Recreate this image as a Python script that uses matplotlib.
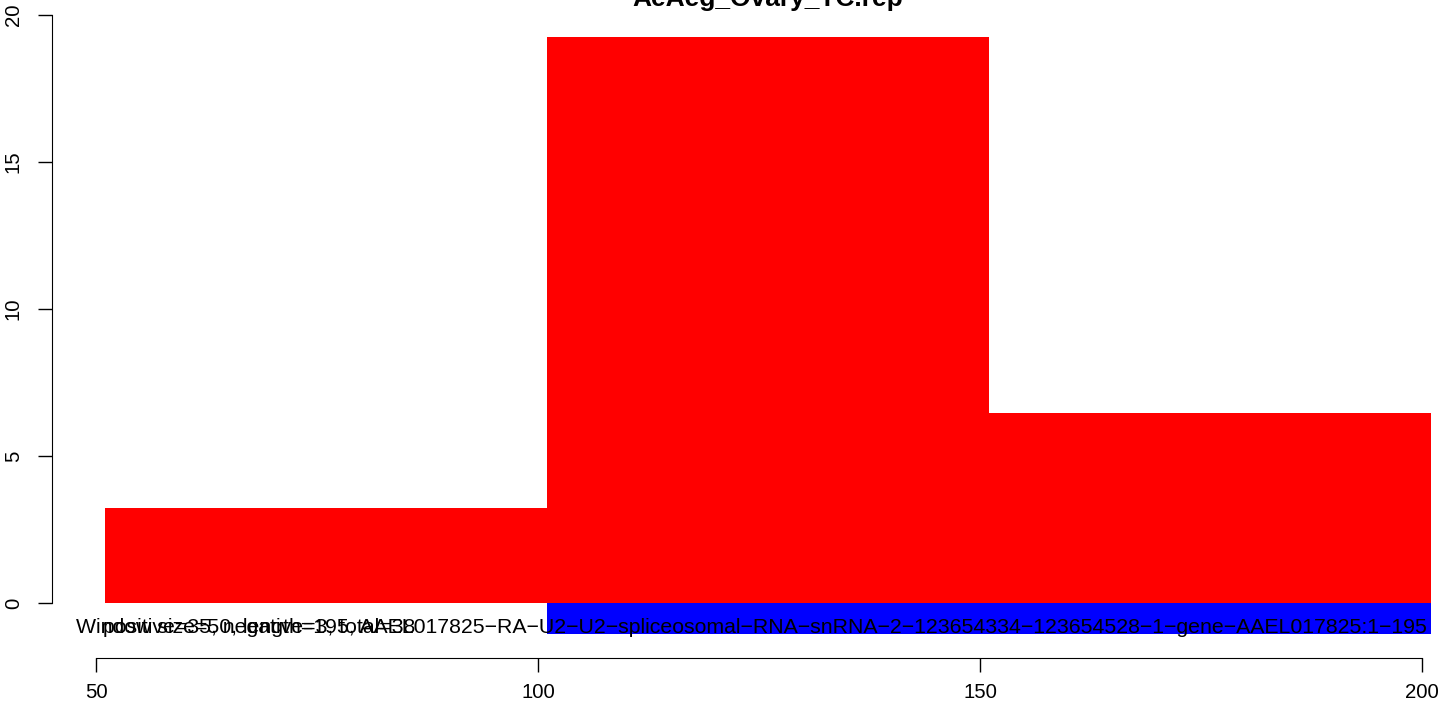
import matplotlib
matplotlib.use("Agg")
import matplotlib.pyplot as plt

plt.rcParams['font.family'] = ['Liberation Sans', 'DejaVu Sans']

# data
title = "AeAeg_Ovary_TC.rep"
win_start = [51, 101, 151]
win_width = [50, 50, 50]
positive = [3.23, 19.25, 6.45]
neg_start = [101]
neg_width = [100]
negative = [-1.05]
# R draws "-" as a real minus sign
label_main = ("Window size=50, length=195, AAEL017825-RA-U2-U2-spliceosomal-RNA-snRNA-2-"
              "123654334-123654528-1-gene-AAEL017825:1-195").replace("-", "\u2212")
label_counts = "positive=35, negative=3, total=38"
xticks = [50, 100, 150, 200]
yticks = [0, 5, 10, 15, 20]

W, H = 1444, 709
fig = plt.figure(figsize=(W / 100, H / 100), dpi=100)
# R-like plot region (extends past the right edge as in the reference)
ax = fig.add_axes([52 / W, (H - 658) / H, (1484 - 52) / W, (658 - 13) / H])
ax.set_xlim(45, 207)
ax.set_ylim(-1.87, 20.06)

ax.bar(win_start, positive, width=win_width, align='edge', color='red', linewidth=0)
ax.bar(neg_start, negative, width=neg_width, align='edge', color='blue', linewidth=0)

ax.text(47.7, -0.82, label_main, ha='left', va='center', fontsize=15.3)
ax.text(50.8, -0.82, label_counts, ha='left', va='center', fontsize=15.3)

for s in ['top', 'right', 'bottom']:
    ax.spines[s].set_visible(False)
ax.spines['left'].set_bounds(0, 20)

ax.set_yticks(yticks)
ax.set_yticklabels([str(v) for v in yticks], rotation=90, va='center')
ax.tick_params(axis='y', length=10, width=1, labelsize=14.7, pad=11)
ax.set_xticks([])

# x axis like R's axis() at the bottom of the plot region
xax = fig.add_axes([52 / W, (H - 658) / H, (1484 - 52) / W, 0.0001])
xax.set_xlim(45, 207)
xax.patch.set_visible(False)
for s in ['top', 'right', 'left']:
    xax.spines[s].set_visible(False)
xax.spines['bottom'].set_bounds(50, 200)
xax.set_yticks([])
xax.set_xticks(xticks)
xax.set_xticklabels([str(v) for v in xticks])
xax.tick_params(axis='x', length=10, width=1, labelsize=14.7, pad=8)

fig.text(768 / W, 1 - 6 / H, title, ha='center', va='baseline', fontsize=19, fontweight='bold')

fig.savefig("out.png", dpi=100)
